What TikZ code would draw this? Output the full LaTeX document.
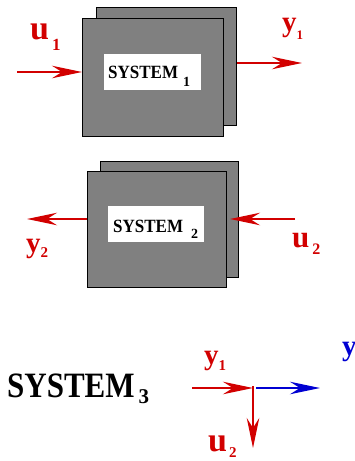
\documentclass[tikz,border=0pt]{standalone}
\usepackage{fontspec}
\setmainfont{Liberation Serif}
\usetikzlibrary{arrows.meta}
\definecolor{figred}{RGB}{210,0,0}
\definecolor{figblue}{RGB}{0,0,210}
\definecolor{boxgray}{RGB}{128,128,128}
\newcommand{\fs}[1]{\fontsize{#1}{#1}\selectfont}
\begin{document}
\begin{tikzpicture}[x=1pt,y=-1pt,
  boxsh/.style={draw=black, line width=0.8pt, fill=boxgray, inner sep=0pt, anchor=north west},
  whitelab/.style={fill=white, inner sep=0pt, anchor=north west},
  txt/.style={inner sep=0pt, anchor=base west, font=\bfseries},
  sig/.style={figred, line width=2.2pt, -{Stealth[length=30pt,width=12.5pt,inset=10pt]}},
  redlab/.style={txt, text=figred}
]
\useasboundingbox (0,0) rectangle (354,461);

% System 1
\node[boxsh, minimum width=140pt, minimum height=118pt] (back1) at (96,7) {};
\node[boxsh, minimum width=141pt, minimum height=118pt] (front1) at (82,18) {};
\node[whitelab, minimum width=97pt, minimum height=36pt] (lab1) at (104,54) {};
\node[txt] (t1) at (108,78) {\scalebox{1}[1.1]{\fs{17}SYSTEM}\hspace{5pt}\raisebox{-8pt}{\fs{14}1}};

% System 2
\node[boxsh, minimum width=138pt, minimum height=116pt] (back2) at (100,161) {};
\node[boxsh, minimum width=139pt, minimum height=116pt] (front2) at (87,171) {};
\node[whitelab, minimum width=96pt, minimum height=36pt] (lab2) at (108,206) {};
\node[txt] (t2) at (113,232) {\scalebox{1}[1.1]{\fs{17}SYSTEM}\hspace{8pt}\raisebox{-6pt}{\fs{14}2}};

% labels
\node[redlab] (u1) at (30,39) {\fs{34}u\hspace{3pt}\raisebox{-11pt}{\fs{17}1}};
\node[redlab] (y1) at (282,31) {\fs{29}y\raisebox{-8pt}{\fs{13}1}};
\node[redlab] (y2) at (26,252) {\fs{29}y\raisebox{-5pt}{\fs{15}2}};
\node[redlab] (u2) at (292,247) {\fs{31}u\hspace{3pt}\raisebox{-7pt}{\fs{16}2}};

% arrows systems 1 and 2
\coordinate (u1s) at (17,72);
\draw[sig] (u1s) -- (u1s -| front1.west);
\coordinate (y1e) at (302,63);
\draw[sig] (back1.east |- y1e) -- (y1e);
\coordinate (y2e) at (27,219);
\draw[sig] (front2.west |- y2e) -- (y2e);
\coordinate (u2s) at (295,219);
\coordinate (u2t) at (230,219);
\draw[sig] (u2s) -- (u2t);

% System 3
\node[txt] (s3) at (7,397) {\scalebox{1}[1.15]{\fs{31}SYSTEM}\hspace{4pt}\raisebox{-6pt}{\fs{21}3}};
\node[redlab] (y1b) at (204,364) {\fs{29}y\raisebox{-6pt}{\fs{15}1}};
\node[redlab] (u2b) at (208,451) {\fs{34}u\hspace{2pt}\raisebox{-6pt}{\fs{15}2}};
\node[txt, text=figblue] (y3) at (342,355) {\fs{29}y};
\coordinate (s3a) at (192,388);
\coordinate (J) at (253,388);
\coordinate (Jb) at (256,388);
\coordinate (Jt) at (253,386);
\coordinate (s3b) at (320,388);
\coordinate (s3c) at (253,448);
\draw[sig] (s3a) -- (J);
\draw[sig] (Jt) -- (s3c);
\draw[sig, figblue] (Jb) -- (s3b);
\end{tikzpicture}
\end{document}
